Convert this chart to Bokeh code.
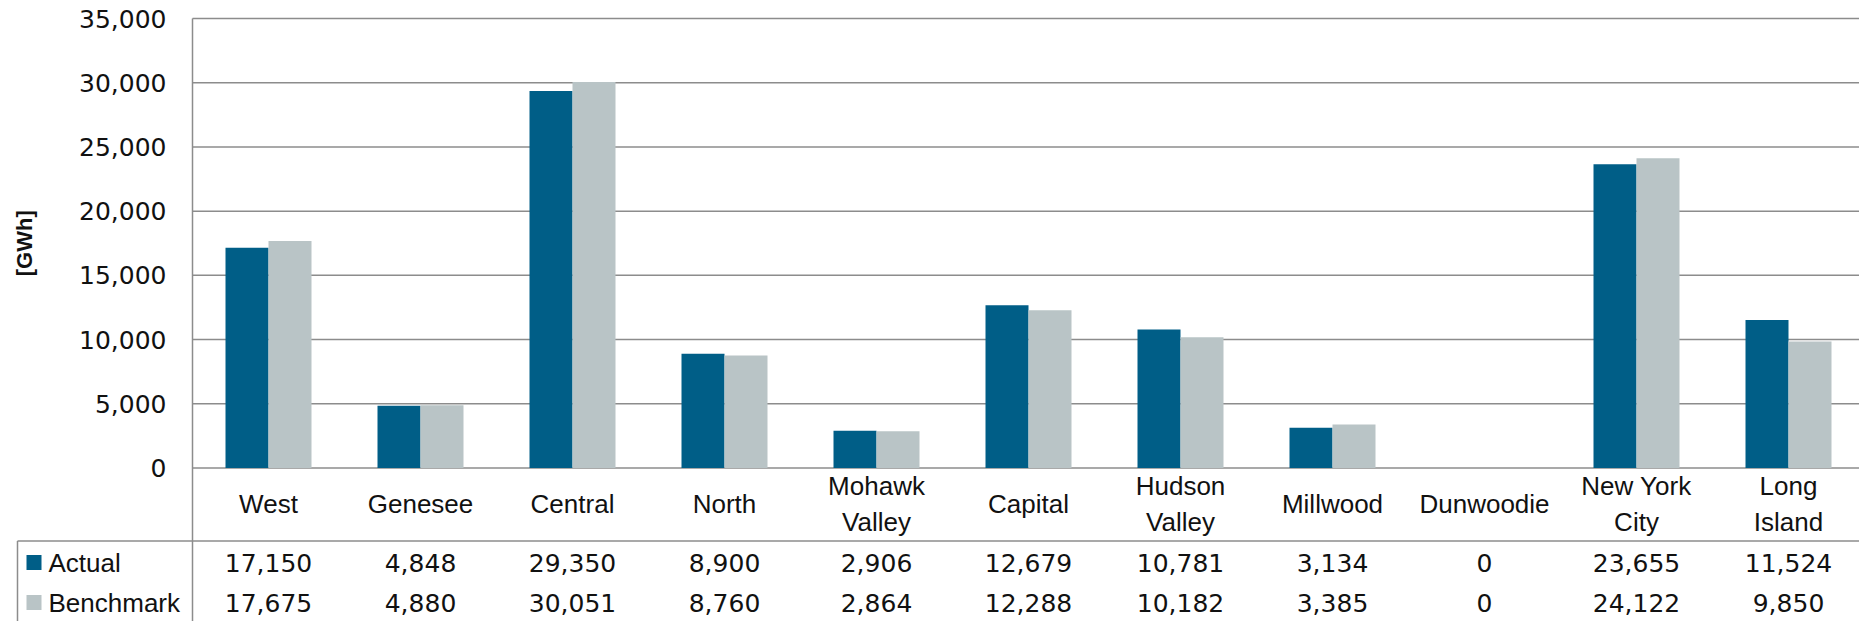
import numpy as np
from bokeh.plotting import figure
from bokeh.models import Range1d
from bokeh.core.properties import value
from bokeh.embed import file_html
from bokeh.resources import INLINE

# Annual energy by zone [GWh]
zones = ["West", "Genesee", "Central", "North", "Mohawk\nValley", "Capital",
         "Hudson\nValley", "Millwood", "Dunwoodie", "New York\nCity", "Long\nIsland"]
actual = [17150, 4848, 29350, 8900, 2906, 12679, 10781, 3134, 0, 23655, 11524]
benchmark = [17675, 4880, 30051, 8760, 2864, 12288, 10182, 3385, 0, 24122, 9850]
series_names = ["Actual", "Benchmark"]
y_ticks = [0, 5000, 10000, 15000, 20000, 25000, 30000, 35000]

# styling
C_ACTUAL = "#005E87"
C_BENCH = "#B9C4C6"
C_RULE = "#8C8C8C"
C_TEXT = "#111111"
WORD_FONT = value("Liberation Sans")
NUM_FONT = value("DejaVu Sans")

# layout (pixels)
W, H = 1859, 621
LEFT = 192          # left edge of the plotting area
CAT_W = 152         # width of one zone column
Y_MAX_PX = 18       # pixel row of the top gridline
Y_ZERO_PX = 467.5   # pixel row of the zero line
PX = y_ticks[-1] / (Y_ZERO_PX - Y_MAX_PX)   # GWh per pixel
BAR_W = 43 / CAT_W


def xd(px):
    """Pixel column -> zone axis units."""
    return (px - LEFT) / CAT_W


n = len(zones)
idx = np.arange(n)
x_end = xd(W)
x_mid = idx + 0.5

p = figure(width=W, height=H, output_backend="svg", toolbar_location=None,
           x_range=Range1d(xd(0), x_end),
           y_range=Range1d(-(H - Y_ZERO_PX) * PX, y_ticks[-1] + Y_MAX_PX * PX),
           x_axis_location=None, y_axis_location=None,
           min_border_left=0, min_border_right=0, min_border_top=0, min_border_bottom=0)
# second vertical scale in pixel rows, used for the category/table block
p.extra_y_ranges = {"rows": Range1d(H, 0)}
p.outline_line_color = None
p.xgrid.visible = False
p.ygrid.visible = False
p.background_fill_color = "white"
p.border_fill_color = "white"

# horizontal gridlines at every tick, including the zero line
p.segment(x0=[0] * len(y_ticks), x1=[x_end] * len(y_ticks), y0=y_ticks, y1=y_ticks,
          line_color=C_RULE, line_width=1.5)

# bars
p.vbar(x=x_mid - BAR_W / 2, top=actual, bottom=0, width=BAR_W,
       fill_color=C_ACTUAL, line_color=None)
p.vbar(x=x_mid + BAR_W / 2, top=benchmark, bottom=0, width=BAR_W,
       fill_color=C_BENCH, line_color=None)

# value axis: rule, tick labels and title
p.segment(x0=[0], x1=[0], y0=[y_ticks[-1]], y1=[-(H - Y_ZERO_PX) * PX],
          line_color=C_RULE, line_width=1.5)
p.text(x=[xd(166)] * len(y_ticks), y=y_ticks, text=[f"{v:,}" for v in y_ticks],
       text_align="right", text_baseline="middle", text_font=NUM_FONT,
       text_font_size="25px", text_color=C_TEXT)
p.text(x=[xd(24)], y=[y_ticks[-1] / 2], text=["[GWh]"], angle=np.pi / 2,
       text_align="center", text_baseline="middle", text_font=WORD_FONT,
       text_font_style="bold", text_font_size="22px", text_color=C_TEXT)

# data table below the chart
ROW_SEP = 540.5
CAT_Y = 503
ROW_Y = [562, 602]
p.segment(x0=[xd(17), xd(17)], y0=[ROW_SEP, ROW_SEP],
          x1=[x_end, xd(17)], y1=[ROW_SEP, H],
          line_color=C_RULE, line_width=1.5, y_range_name="rows")

p.text(x=x_mid, y=[CAT_Y] * n, text=zones, text_align="center",
       text_baseline="middle", text_font=WORD_FONT, text_font_size="26px",
       text_line_height=1.2, text_color=C_TEXT, y_range_name="rows")

for row_y, vals in zip(ROW_Y, [actual, benchmark]):
    p.text(x=x_mid, y=[row_y] * n, text=[f"{v:,}" for v in vals],
           text_align="center", text_baseline="middle", text_font=NUM_FONT,
           text_font_size="25px", text_color=C_TEXT, y_range_name="rows")

p.rect(x=[xd(33.5)] * 2, y=ROW_Y, width=15, height=15, width_units="screen",
       height_units="screen", fill_color=[C_ACTUAL, C_BENCH], line_color=None,
       y_range_name="rows")
p.text(x=[xd(48)] * 2, y=ROW_Y, text=series_names, text_align="left",
       text_baseline="middle", text_font=WORD_FONT, text_font_size="26px",
       text_color=C_TEXT, y_range_name="rows")

open("out.html", "w").write(file_html(p, INLINE))
